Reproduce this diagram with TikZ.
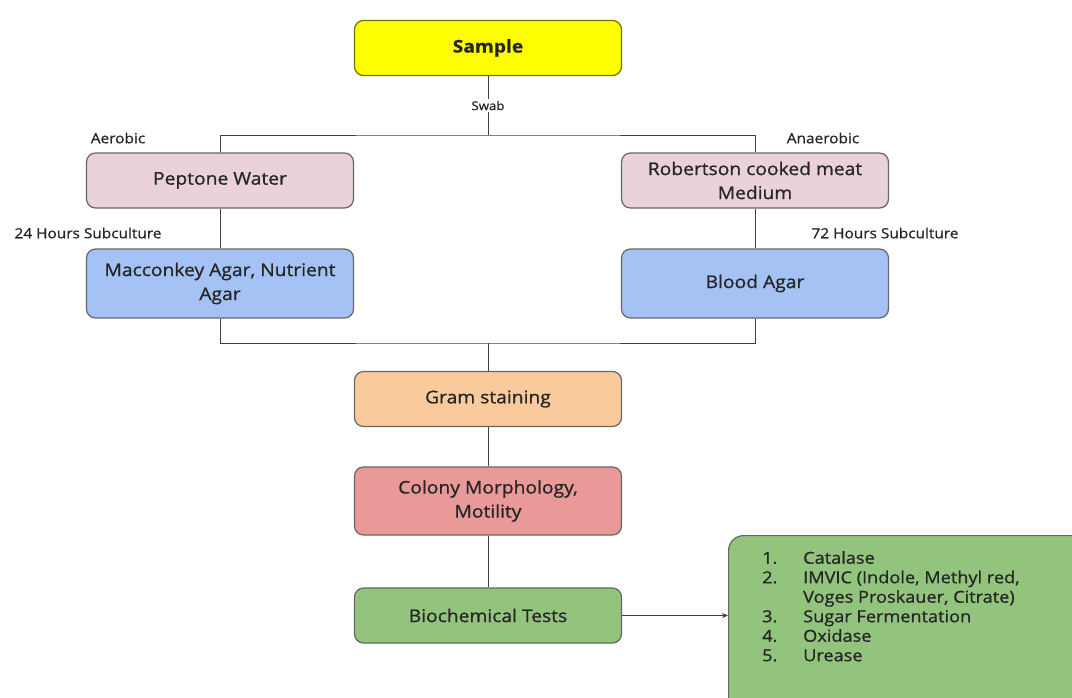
\documentclass[tikz,border=0pt]{standalone}
\usepackage{fontspec}
\setmainfont{Open Sans}[FakeStretch=1.1, FakeBold=0.9]
\definecolor{sampleYellow}{RGB}{255,255,0}
\definecolor{mediumPink}{RGB}{234,209,220}
\definecolor{agarBlue}{RGB}{164,194,244}
\definecolor{gramPeach}{RGB}{249,203,156}
\definecolor{colonyRed}{RGB}{234,153,153}
\definecolor{testGreen}{RGB}{147,196,125}
\usetikzlibrary{arrows.meta,positioning}

\begin{document}
\begin{tikzpicture}[x=1pt, y=-1pt,
  box/.style={draw=black!60, line width=1.2pt, rounded corners=9pt, minimum width=267pt,
              minimum height=55pt, align=center, font=\fontsize{17.5}{24}\selectfont, text=black!85},
  samplebox/.style={box, fill=sampleYellow, draw=sampleYellow!45!black,
                    font=\fontsize{17.5}{24}\selectfont\bfseries},
  mediumbox/.style={box, fill=mediumPink},
  agarbox/.style={box, fill=agarBlue, minimum height=69pt},
  grambox/.style={box, fill=gramPeach},
  colonybox/.style={box, fill=colonyRed, minimum height=68pt},
  testbox/.style={box, fill=testGreen},
  listbox/.style={box, fill=testGreen, rounded corners=15pt, minimum width=360pt, minimum height=180pt},
  note/.style={font=\fontsize{14}{16}\selectfont, text=black!85},
  link/.style={draw=black!75, line width=0.9pt}
]
  \useasboundingbox (0,0) rectangle (1072,697);

  \node[samplebox]  (sample)    at (488,48)    {Sample};
  \coordinate       (split)     at (488,135);

  \node[mediumbox]  (peptone)   at (220,180.5) {Peptone Water};
  \node[mediumbox]  (robertson) at (755,180.5) {Robertson cooked meat\\Medium};
  \node[agarbox]    (macconkey) at (220,283.5) {Macconkey Agar, Nutrient\\Agar};
  \node[agarbox]    (blood)     at (755,283.5) {Blood Agar};
  \coordinate       (merge)     at (488,343);

  \node[grambox]    (gram)      at (488,399)   {Gram staining};
  \node[colonybox]  (colony)    at (488,501)   {Colony Morphology,\\Motility};
  \node[testbox]    (biochem)   at (488,615.5) {Biochemical Tests};
  \node[listbox, anchor=north west] (tests) at (728,535) {};
  \node[anchor=north west, inner sep=0pt, align=left, text=black!85,
        font=\fontsize{16.5}{19.5}\selectfont] (testlist) at (762,551)
       {\makebox[41pt][l]{1.}Catalase\\
        \makebox[41pt][l]{2.}IMVIC (Indole, Methyl red,\\
        \makebox[41pt][l]{}Voges Proskauer, Citrate)\\
        \makebox[41pt][l]{3.}Sugar Fermentation\\
        \makebox[41pt][l]{4.}Oxidase\\
        \makebox[41pt][l]{5.}Urease};

  % side labels
  \node[note] (aerobic)   at (118,138) {Aerobic};
  \node[note] (anaerobic) at (823,138) {Anaerobic};
  \node[note] (sub24)     at (88,233)  {24 Hours Subculture};
  \node[note] (sub72)     at (885,233) {72 Hours Subculture};

  % connectors
  \draw[link] (sample) -- node[fill=white, inner sep=2pt, text=black!85,
                               font=\fontsize{12}{14}\selectfont] (swab) {Swab} (split);
  \draw[link] (peptone.north) |- (split) -| (robertson.north);
  \draw[link] (peptone) -- (macconkey);
  \draw[link] (robertson) -- (blood);
  \draw[link] (macconkey.south) |- (merge) -| (blood.south);
  \draw[link] (merge) -- (gram);
  \draw[link] (gram) -- (colony);
  \draw[link] (colony) -- (biochem);
  \draw[link, -{Stealth[length=6pt, width=5pt]}] (biochem.east) -- (biochem.east -| tests.west);
\end{tikzpicture}
\end{document}
